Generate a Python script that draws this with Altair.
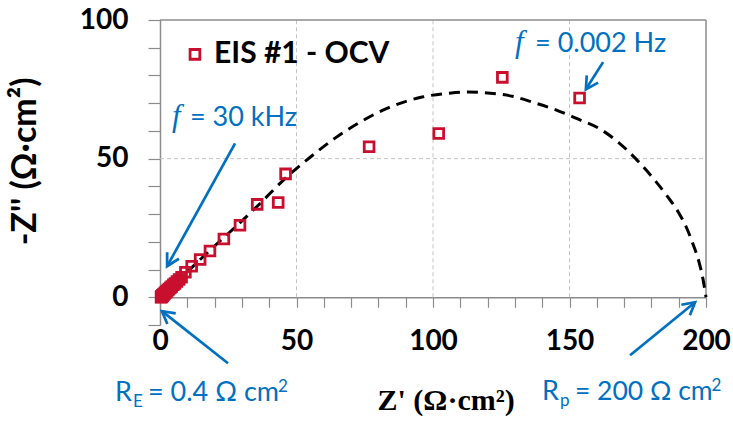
import math
import altair as alt
import pandas as pd

# ---- measured impedance data: Z' and -Z'' (Ohm cm2) ----
z_re = [0.4, 0.45, 0.5, 0.6, 0.7, 0.8, 0.9, 1.0, 1.2, 1.4, 1.6, 1.9, 2.2, 2.5, 2.9, 3.3,
        3.8, 4.3, 4.9, 5.5, 6.2, 7.0, 7.9, 9.3, 11.6, 14.7, 18.3, 23.4, 29.3, 35.6, 43.3,
        46.0, 76.6, 102.1, 125.4, 153.7]
z_im = [0.0, 0.1, 0.2, 0.3, 0.4, 0.5, 0.6, 0.7, 0.9, 1.1, 1.3, 1.6, 1.9, 2.2, 2.6, 3.0,
        3.4, 3.9, 4.5, 5.0, 5.7, 6.4, 7.2, 9.0, 11.2, 13.6, 16.7, 21.0, 26.0, 33.5, 34.2,
        44.5, 54.3, 59.1, 79.3, 71.9]

# ---- fitted arc (dashed) ----
fit_re = [0.4, 4, 10, 16, 22, 29, 36, 46, 55, 64, 73, 84, 96, 106, 113, 121,
          129, 137, 145, 153, 161, 168, 175, 181, 186, 190, 193, 195.5, 197.5, 199, 200]
fit_im = [0, 3.6, 9.2, 14.8, 20.3, 26.6, 33.2, 43, 50.5, 57.3, 63, 68.5, 72.2, 73.6, 74, 73.6,
          72.5, 70.2, 67.6, 64.3, 60.8, 55.8, 49.2, 42.5, 36.2, 30.5, 24.8, 18.5, 12.5, 6, 0]

x_ticks = list(range(0, 201, 10))
y_ticks = list(range(-10, 101, 10))
x_grid = [50, 100, 150]
y_grid = [50]

W, H = 546, 305
X_DOM, Y_DOM = [0, 200], [-10, 100]
KX = W / (X_DOM[1] - X_DOM[0])
KY = H / (Y_DOM[1] - Y_DOM[0])

RED = "#C8102E"
BLUE = "#0070C0"
GRAY = "#8C8C8C"

XS = alt.Scale(domain=X_DOM, nice=False, zero=False)
YS = alt.Scale(domain=Y_DOM, nice=False, zero=False)

lab_expr = "(datum.value % 50 === 0 && datum.value >= 0) ? datum.label : ''"
x_axis = alt.Axis(values=x_ticks, labelExpr=lab_expr, title=None, grid=False,
                  offset=-(0 - Y_DOM[0]) * KY, tickSize=10, tickWidth=1.2, tickColor=GRAY,
                  domainColor=GRAY, domainWidth=1.5, labelFont="Lato", labelFontWeight="bold",
                  labelFontSize=28, labelColor="black", labelPadding=20, labelFlush=False)
y_axis = alt.Axis(values=y_ticks, labelExpr=lab_expr, title=None, grid=False,
                  tickSize=12, tickWidth=1.2, tickColor=GRAY, domainColor=GRAY, domainWidth=1.5,
                  labelFont="Lato", labelFontWeight="bold", labelFontSize=28,
                  labelColor="black", labelPadding=20)


def X(f="x"):
    return alt.X(f"{f}:Q", scale=XS, axis=x_axis)


def Y(f="y"):
    return alt.Y(f"{f}:Q", scale=YS, axis=y_axis)


# gridlines
vgrid = alt.Chart(pd.DataFrame({"x": x_grid, "y": [0] * len(x_grid), "y2": [100] * len(x_grid)})).mark_rule(
    color="#C4C4C4", strokeDash=[4, 3], strokeWidth=1).encode(x=X(), y=Y(), y2="y2:Q")
hgrid = alt.Chart(pd.DataFrame({"y": y_grid, "x": [0] * len(y_grid), "x2": [200] * len(y_grid)})).mark_rule(
    color="#C4C4C4", strokeDash=[4, 3], strokeWidth=1).encode(y=Y(), x=X(), x2="x2:Q")
# top / right frame lines
frame_top = alt.Chart(pd.DataFrame({"y": [100], "x": [0], "x2": [200]})).mark_rule(
    color=GRAY, strokeWidth=1.5).encode(y=Y(), x=X(), x2="x2:Q")
frame_right = alt.Chart(pd.DataFrame({"x": [200], "y": [0], "y2": [100]})).mark_rule(
    color=GRAY, strokeWidth=1.5).encode(x=X(), y=Y(), y2="y2:Q")

fit = alt.Chart(pd.DataFrame({"x": fit_re, "y": fit_im, "o": list(range(len(fit_re)))})).mark_line(
    color="black", strokeWidth=3, strokeDash=[11, 7], interpolate="monotone").encode(
    x=X(), y=Y(), order="o:Q")

pts = alt.Chart(pd.DataFrame({"x": z_re, "y": z_im})).mark_point(
    shape="square", filled=False, color=RED, strokeWidth=2.8, size=95, opacity=1).encode(
    x=X(), y=Y())

# legend
leg_sym = alt.Chart(pd.DataFrame({"x": [12.8], "y": [87.6]})).mark_point(
    shape="square", filled=False, color=RED, strokeWidth=2.8, size=95, opacity=1).encode(x=X(), y=Y())


def txt(x, y, s, size, color="black", font="Lato", weight="normal", style="normal",
        align="left", baseline="alphabetic", angle=0):
    return alt.Chart(pd.DataFrame({"x": [x], "y": [y], "t": [s]})).mark_text(
        font=font, fontSize=size, fontWeight=weight, fontStyle=style, color=color,
        align=align, baseline=baseline, angle=angle).encode(x=X(), y=Y(), text="t:N")


texts = [
    txt(19.8, 84.4, "EIS #1 - OCV", 30, weight="bold"),
    # f = 30 kHz
    txt(4.4, 61.7, "f", 31, BLUE, font="Liberation Serif", style="italic"),
    txt(11.0, 61.7, "= 30 kHz", 27, BLUE),
    # f = 0.002 Hz
    txt(130.0, 88.4, "f", 31, BLUE, font="Liberation Serif", style="italic"),
    txt(137.4, 88.4, "= 0.002 Hz", 27, BLUE),
    # R_E = 0.4 Ohm cm2
    txt(-16.5, -37.5, "R", 27, BLUE),
    txt(-9.9, -39.7, "E", 17, BLUE),
    txt(-4.4, -37.5, "= 0.4 Ω cm", 27, BLUE),
    txt(43.2, -34.3, "2", 17, BLUE),
    # R_p = 200 Ohm cm2
    txt(139.9, -37.1, "R", 27, BLUE),
    txt(146.5, -39.3, "p", 17, BLUE),
    txt(152.0, -37.1, "= 200 Ω cm", 26.5, BLUE),
    txt(202.0, -33.9, "2", 17, BLUE),
    # axis titles
    txt(104.8, -40.7, "Z' (Ω·cm²)", 30, font="Liberation Serif", weight="bold", align="center"),
    txt(-49.1, 49.0, "-Z'' (Ω·cm²)", 34, weight="bold", align="center", baseline="middle", angle=270),
]

# arrows: tail (x, y) -> tip (x2, y2)
arr_x = [27.5, 162.3, 24.9, 172.2]
arr_y = [55.5, 84.8, -23.8, -20.9]
arr_x2 = [2.6, 156.0, 0.7, 196.0]
arr_y2 = [11.2, 75.0, -5.0, -1.8]
ang = []
for a, b, c, d in zip(arr_x, arr_y, arr_x2, arr_y2):
    dx = (c - a) * KX
    dy = -(d - b) * KY
    ang.append(math.degrees(math.atan2(dx, -dy)) % 360)
adf = pd.DataFrame({"x": arr_x, "y": arr_y, "x2": arr_x2, "y2": arr_y2, "ang": ang})
shafts = alt.Chart(adf).mark_rule(color=BLUE, strokeWidth=2.7).encode(
    x=X(), y=Y(), x2="x2:Q", y2="y2:Q")
heads = alt.Chart(adf).mark_point(
    shape="M -0.55 1 L 0 0 L 0.55 1", filled=False, color=BLUE, strokeWidth=2.7,
    size=600, opacity=1, strokeJoin="miter").encode(
    x=X("x2"), y=Y("y2"), angle=alt.Angle("ang:Q", scale=None))

chart = alt.layer(vgrid, hgrid, frame_top, frame_right, fit, pts, leg_sym, shafts, heads, *texts).properties(
    width=W, height=H,
    autosize=alt.AutoSizeParams(type="none"),
    padding={"left": 160, "top": 20, "right": 27, "bottom": 97},
).configure_view(stroke=None)

chart.save("out.html", embed_options={"renderer": "svg", "actions": False})
